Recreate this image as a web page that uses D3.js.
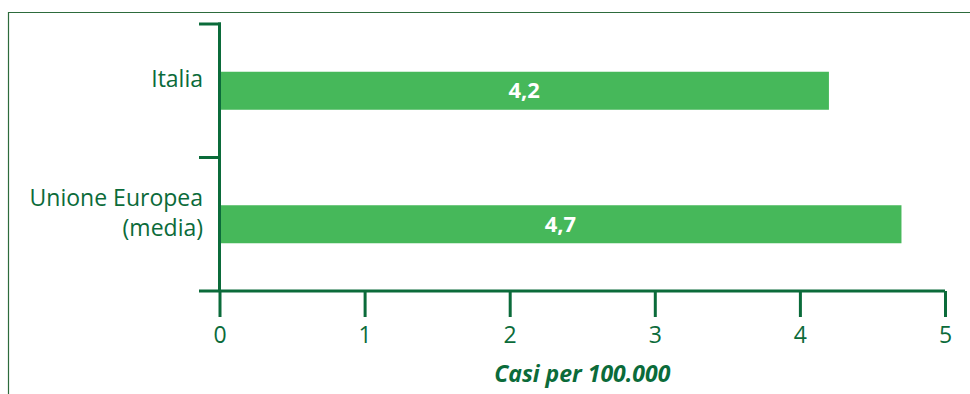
<!DOCTYPE html>
<html>
<head>
<meta charset="utf-8">
<script src="https://cdn.jsdelivr.net/npm/d3@7"></script>
<style>
  html, body { margin: 0; padding: 0; background: #fff; }
  svg { display: block; }
</style>
</head>
<body>
<svg id="chart" width="970" height="394"></svg>
<script>
// Casi per 100.000 abitanti
const categories = ["Italia", "Unione Europea (media)"];
const categoryLines = [["Italia"], ["Unione Europea", "(media)"]];
const values = [4.2, 4.7];
const valueLabels = ["4,2", "4,7"];
const xTicks = [0, 1, 2, 3, 4, 5];
const xTitle = "Casi per 100.000";

const dark = "#0b6b3a";
const barColor = "#46b85a";
const font = "'Open Sans', 'Noto Sans', sans-serif";

const svg = d3.select("#chart");

// frame lines (top and left)
svg.append("line").attr("x1", 8).attr("x2", 970).attr("y1", 12.5).attr("y2", 12.5)
  .attr("stroke", "#2d6b3c").attr("stroke-width", 1.2);
svg.append("line").attr("x1", 8.5).attr("x2", 8.5).attr("y1", 12).attr("y2", 394)
  .attr("stroke", "#2d6b3c").attr("stroke-width", 1.2);

const x = d3.scaleLinear().domain([0, 5]).range([219.5, 945]);
const y = d3.scaleBand().domain(categories).range([24, 291]).paddingInner(0).paddingOuter(0);
const barH = 38;

// bars
svg.selectAll("rect.bar").data(values).join("rect")
  .attr("class", "bar")
  .attr("x", x(0))
  .attr("y", (d, i) => y(categories[i]) + y.bandwidth() / 2 - barH / 2)
  .attr("width", d => x(d) - x(0))
  .attr("height", barH)
  .attr("fill", barColor);

// value labels
svg.selectAll("text.val").data(values).join("text")
  .attr("class", "val")
  .attr("x", d => (x(0) + x(d)) / 2)
  .attr("y", (d, i) => y(categories[i]) + y.bandwidth() / 2 + 7.5)
  .attr("text-anchor", "middle")
  .attr("fill", "#fff")
  .attr("font-family", font)
  .attr("font-weight", "bold")
  .attr("font-size", 22)
  .text((d, i) => valueLabels[i]);

// x axis
const xAxis = d3.axisBottom(x).tickValues(xTicks).tickSize(26).tickPadding(4)
  .tickFormat(d3.format("d"));
const gx = svg.append("g").attr("transform", "translate(0,291)").call(xAxis);
gx.select(".domain").attr("d", `M199,0H945`);
gx.selectAll("path, line").attr("stroke", dark).attr("stroke-width", 3);
gx.selectAll("text").attr("y", 52).attr("dy", null)
  .attr("fill", dark).attr("font-family", font).attr("font-size", 23);

// y axis: ticks at band edges
const edges = [24, 24 + y.bandwidth()];
const gy = svg.append("g");
gy.append("line").attr("x1", x(0)).attr("x2", x(0)).attr("y1", 22.5).attr("y2", 291)
  .attr("stroke", dark).attr("stroke-width", 3);
gy.selectAll("line.tick").data(edges).join("line")
  .attr("class", "tick")
  .attr("x1", 199).attr("x2", x(0) + 1.5)
  .attr("y1", d => d).attr("y2", d => d)
  .attr("stroke", dark).attr("stroke-width", 3);

// category labels
categories.forEach((c, i) => {
  const lines = categoryLines[i];
  const base = y(c) + y.bandwidth() / 2 - 3.5;
  const lh = 30;
  const t = svg.append("text")
    .attr("text-anchor", "end")
    .attr("fill", dark)
    .attr("font-family", font)
    .attr("font-size", 23);
  lines.forEach((ln, j) => {
    t.append("tspan")
      .attr("x", 203)
      .attr("y", base + (j - (lines.length - 1) / 2) * lh)
      .text(ln);
  });
});

// axis title
svg.append("text")
  .attr("x", x(2.5))
  .attr("y", 382)
  .attr("text-anchor", "middle")
  .attr("fill", dark)
  .attr("font-family", font)
  .attr("font-weight", "bold")
  .attr("font-style", "italic")
  .attr("font-size", 23)
  .text(xTitle);
</script>
</body>
</html>
